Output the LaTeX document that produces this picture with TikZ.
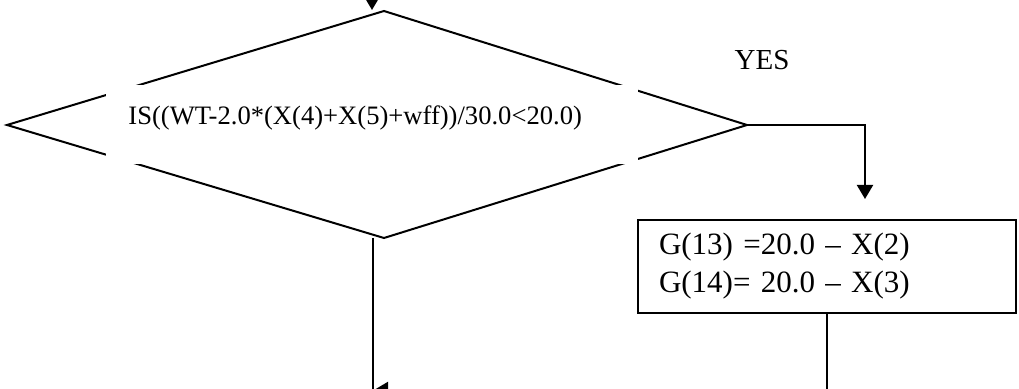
\documentclass[tikz,border=0pt]{standalone}
\usepackage{fontspec}
\setmainfont{Liberation Serif}
\usetikzlibrary{arrows.meta}
\begin{document}
\begin{tikzpicture}[
        x=0.5pt, y=-0.5pt,
        line/.style={line width=1pt},
        flow/.style={line width=1pt, -{Triangle[length=7pt, width=8pt]}},
        condtext/.style={anchor=base west, inner sep=0pt, font=\fontsize{13.3}{16}\selectfont},
        labeltext/.style={anchor=base, inner sep=0pt, font=\fontsize{14.5}{17}\selectfont},
        actbox/.style={draw, line width=1pt, anchor=north west, minimum width=189pt,
            minimum height=46.5pt, text width=168pt, inner xsep=10.5pt, align=left,
            font=\fontsize{15.5}{19}\selectfont}
    ]
    \useasboundingbox (0,0) rectangle (1019,389);
    \clip (0,0) rectangle (1019,389);

    % Decision
    \coordinate (dtop) at (384,11);
    \coordinate (dright) at (747,125);
    \coordinate (dbot) at (384,238);
    \coordinate (dleft) at (7,125);
    \draw[line] (dtop) -- (dright) -- (dbot) -- (dleft) -- cycle;
    \fill[white] (106,85) rectangle (638,164);
    \node[condtext] (cond) at (128,125) {IS((WT-2.0*(X(4)+X(5)+wff))/30.0<20.0)};

    % Entry arrow
    \coordinate (entry) at (372,-10);
    \coordinate (entryend) at (372,10);
    \draw[flow] (entry) -- (entryend);

    % YES branch
    \node[labeltext] (yes) at (762,70) {YES};
    \node[actbox] (assign) at (637,219) {G(13) =20.0 -- X(2)\\G(14)= 20.0 -- X(3)};
    \coordinate (yesend) at (865,199);
    \draw[flow] (dright) -| (yesend);

    % Lower part
    \coordinate (nostart) at (373,238);
    \coordinate (noend) at (373,400);
    \coordinate (merge) at (374,390);
    \draw[line] (nostart) -- (noend);
    \draw[flow] (assign.south) |- (merge);

\end{tikzpicture}
\end{document}
